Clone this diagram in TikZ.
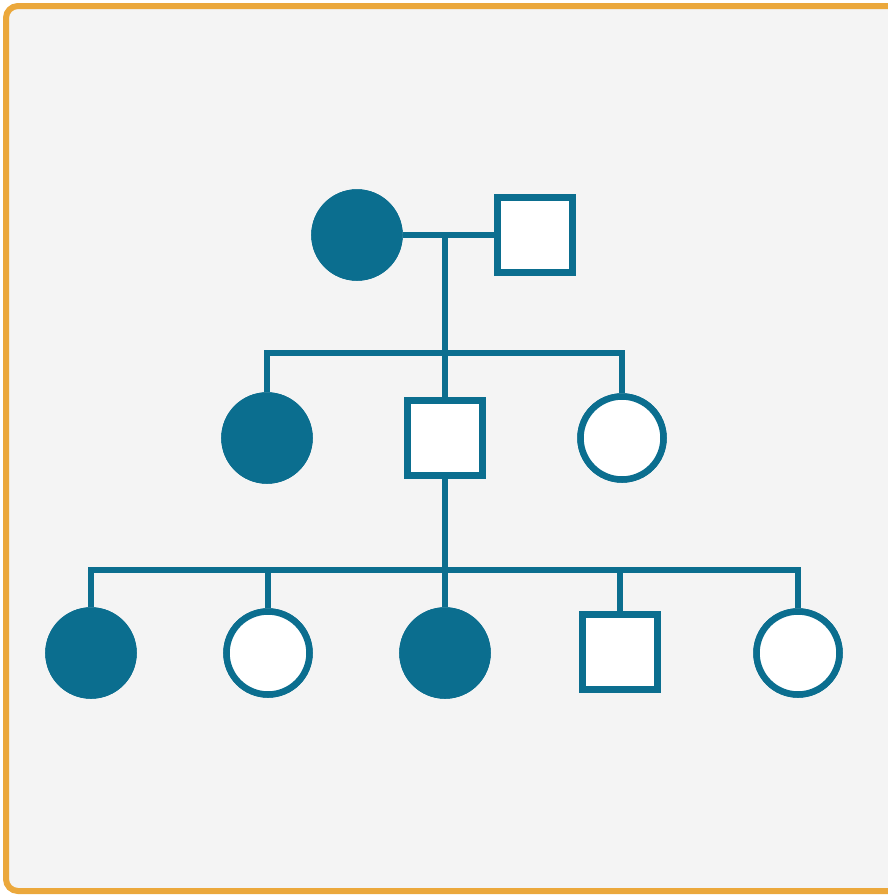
\documentclass[tikz,border=0pt]{standalone}
\definecolor{teal1}{RGB}{11,110,143}
\definecolor{bgc}{RGB}{244,244,244}
\definecolor{orng}{RGB}{235,168,60}
\begin{document}
\begin{tikzpicture}[x=1pt,y=-1pt,
  line width=6.5pt,
  aff/.style={circle,draw=teal1,fill=teal1,minimum size=85pt,inner sep=0pt},
  fem/.style={circle,draw=teal1,fill=white,minimum size=83pt,inner sep=0pt},
  mal/.style={rectangle,draw=teal1,fill=white,minimum size=75pt,inner sep=0pt},
  conn/.style={draw=teal1,line width=6.5pt}]
\useasboundingbox (0,0) rectangle (887,895);
\draw[orng,line width=6pt,fill=bgc,rounded corners=12pt] (6,6) rectangle (905,891);
% generation I
\node[aff] (g1) at (357,235) {};
\node[mal] (g2) at (535,235) {};
\coordinate (m1) at (445,235);
% generation II
\node[aff] (a1) at (267,438) {};
\node[mal] (a2) at (445,438) {};
\node[fem] (a3) at (622,438) {};
\coordinate (s1) at (445,353);
\coordinate (s1l) at (267,353);
\coordinate (s1r) at (622,353);
% generation III
\node[aff] (b1) at (91,653) {};
\node[fem] (b2) at (268,653) {};
\node[aff] (b3) at (445,653) {};
\node[mal] (b4) at (620,652) {};
\node[fem] (b5) at (798,653) {};
\coordinate (s2) at (445,570);
\coordinate (s2a) at (91,570);
\coordinate (s2b) at (268,570);
\coordinate (s2d) at (620,570);
\coordinate (s2e) at (798,570);
% connectors
\draw[conn] (g1.east) -- (g2.west);
\draw[conn] (m1) -- (s1);
\draw[conn] (a1.north) -- (s1l) -- (s1r) -- (a3.north);
\draw[conn] (s1) -- (a2.north);
\draw[conn] (a2.south) -- (s2);
\draw[conn] (b1.north) -- (s2a) -- (s2e) -- (b5.north);
\draw[conn] (s2b) -- (b2.north);
\draw[conn] (s2) -- (b3.north);
\draw[conn] (s2d) -- (b4.north);
% redraw nodes on top
\node[aff] at (g1) {};
\node[mal] at (g2) {};
\node[aff] at (a1) {};
\node[mal] at (a2) {};
\node[fem] at (a3) {};
\node[aff] at (b1) {};
\node[fem] at (b2) {};
\node[aff] at (b3) {};
\node[mal] at (b4) {};
\node[fem] at (b5) {};
\end{tikzpicture}
\end{document}
